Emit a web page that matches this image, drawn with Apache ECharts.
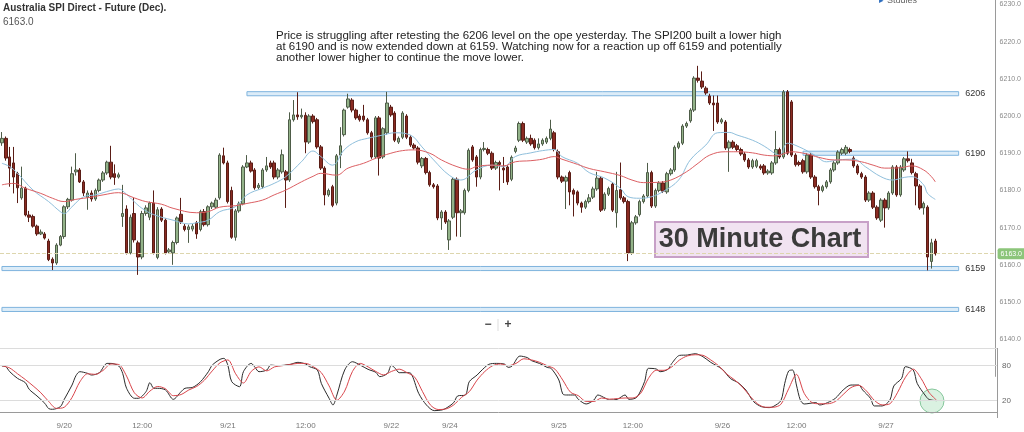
<!DOCTYPE html>
<html>
<head>
<meta charset="utf-8">
<title>SPI 30 minute</title>
<script src="https://cdn.jsdelivr.net/npm/echarts@6/dist/echarts.min.js"></script>
<style>
  html, body { margin: 0; padding: 0; background: #fff; }
  #spiChart { width: 1024px; height: 432px; }
</style>
</head>
<body>
<div id="spiChart"></div>
<script>
// 30 minute bars [open, close, low, high], split by trading day
var bars0920 = [
  [6192.8,6194,6192,6195.7],[6194,6188.7,6188,6194.5],[6189,6186,6181,6191.7],[6187.4,6183.6,6179.2,6191.7],
  [6184.5,6180.7,6176.6,6185],[6178,6180.6,6177.5,6186.4],[6180.6,6173.4,6173,6181],[6173.4,6172.8,6171.5,6174.5],
  [6173,6170.4,6170,6173.5],[6170.4,6168.3,6167.8,6170.8],[6168.3,6168.8,6168,6169.5],[6168.3,6167.2,6166.8,6168.8],
  [6166.4,6161.4,6161,6167],[6161.5,6160.5,6158.6,6162],[6160.5,6165.3,6160,6165.8],[6165.3,6167.6,6165,6168],
  [6167.6,6175.6,6167,6176],[6175.6,6177.6,6175,6178],[6177.4,6184.5,6177,6186.4],[6185,6185.5,6184,6190],
  [6185.5,6182.3,6182,6186],[6182.3,6179.3,6178.5,6182.8],[6178.2,6179.3,6174.8,6180],[6179.3,6177.7,6177,6180],
  [6177.7,6180,6177.2,6180.5],[6180,6182.8,6179.5,6183.2],[6182.8,6184.7,6182.3,6185.2],[6184.7,6187.6,6184.2,6188],
  [6187.6,6183.6,6183,6192],[6184.5,6183.5,6181.5,6187],[6183.6,6184.2,6183.2,6184.8],[6173,6173.8,6170.2,6181.5],
  [6175,6163.2,6162.8,6176],[6163.2,6172.8,6162.8,6173.5],[6173.8,6166.7,6166,6178],[6165.9,6162.1,6157.3,6166.5],
  [6162.1,6173.8,6161.5,6174.5],[6173.8,6175.3,6173.2,6176],[6172.8,6176.6,6172,6177],[6176.6,6163.2,6162.8,6180],
  [6162,6174.8,6161.5,6175.5],[6175,6172,6171.5,6175.5],[6172,6163.2,6162.8,6172.5],[6163.5,6164,6163,6164.5],
  [6163.2,6166,6160,6166.5],[6166,6172.6,6165.5,6173],[6173.6,6171.6,6171,6178],[6170.4,6169.5,6169,6171],
  [6169.5,6170.2,6165.9,6170.8],[6169.6,6170.4,6169,6171],[6171.3,6168.3,6167,6171.8],[6169.5,6174.3,6169,6174.8],
  [6174.3,6170.8,6170.3,6175],[6170.8,6175.6,6170.3,6176],[6175.6,6176.6,6175,6177],[6175.5,6177.4,6175,6178],
  [6178,6189.5,6177.5,6190],[6189.3,6187.4,6187,6191.5]
];
var bars0921 = [
  [6187.4,6177,6176.5,6188],[6180,6167.4,6167,6181],[6167.4,6174.5,6166.5,6175],[6174.5,6176.4,6174,6177],
  [6176.4,6186.3,6176,6186.8],[6186.3,6187.4,6186,6189.5],[6187.4,6185.2,6184.8,6188],[6185.5,6180.7,6180.2,6186],
  [6180.8,6181.4,6180.3,6182],[6181,6185.5,6180.5,6186],[6185.5,6186.6,6185,6189],[6187.4,6186.3,6185.8,6188],
  [6187.4,6183.6,6183,6188],[6183.6,6185.5,6183,6186],[6185,6189.6,6184.5,6191],[6185,6182.8,6175.3,6185.5],
  [6182.8,6199,6182.3,6201],[6199,6200.3,6198.5,6204.3],[6200.3,6199.8,6199,6206.4],[6199.8,6200.2,6199.3,6202],
  [6200.2,6193,6190,6201],[6193,6200,6192.5,6200.5],[6200,6198.5,6198,6200.5],[6199,6191.7,6191.2,6199.5],
  [6191.7,6186,6185.5,6192.2],[6186,6178.8,6176,6186.5],[6178.8,6180,6178.3,6180.5],[6181,6176,6175.5,6181.5],
  [6176.6,6189.3,6176,6189.8],[6189.5,6192,6186,6197],[6195,6201.6,6194.5,6202],[6202.4,6204.6,6202,6206],
  [6204.3,6201.6,6201,6204.8],[6201.6,6199.5,6199,6202],[6200,6199,6198.5,6200.5],[6200,6199,6198.5,6203],
  [6199,6195.5,6195,6199.5],[6195.5,6189,6188.5,6196],[6189,6199.5,6188.5,6200],[6199.5,6188.7,6184,6200],
  [6189,6196.6,6188.5,6197],[6195.5,6203.5,6195,6206.5]
];
var bars0922 = [
  [6202.4,6200.3,6199.8,6203],[6200.8,6193.5,6193,6201.3],[6193,6194,6192.5,6194.5],[6194.3,6200.8,6193.8,6201.3],
  [6200,6194.3,6193.8,6200.5],[6194.3,6192.2,6191.7,6194.8],[6192.2,6191.4,6191,6192.7],[6191.4,6187.6,6187,6191.9],
  [6186.6,6188.6,6186,6189],[6188.6,6184.8,6184.3,6189],[6184.8,6181.5,6181,6185.3],[6181.5,6181,6180.5,6182],
  [6181.2,6172.6,6172,6181.7],[6172.6,6174.2,6169.4,6174.7],[6174.2,6171.5,6171,6174.7],[6166.7,6171.8,6164,6172.3],
  [6172.8,6183,6172.3,6183.5],[6183,6174,6167.6,6183.5],[6174,6174.5,6167.5,6175],[6174,6180,6173.5,6180.5],
  [6180,6190.8,6179.5,6191.3],[6191.7,6188.2,6187.7,6192.2],[6189,6183.6,6181,6189.5],[6183.6,6191,6183,6191.5],
  [6191,6191.3,6190.5,6193],[6191,6190,6189.5,6191.5],[6190,6186,6185.5,6190.5],[6186,6187.5,6185.5,6188],
  [6187.5,6187,6180,6188],[6186,6185.5,6182,6189],[6186.3,6182.3,6181.5,6186.8],[6183,6188.9,6182.5,6189.4],
  [6190.5,6191.4,6190,6192],[6193.5,6198,6193,6198.5],[6198,6193.5,6193,6198.5],[6193,6194,6192.5,6194.5],
  [6194,6192.5,6192,6195],[6193.5,6191.5,6191,6194],[6191.5,6192.5,6191,6194],[6192.5,6193.5,6192,6194],
  [6193,6194,6192.5,6194.5],[6194,6196.5,6193.5,6199],[6195.5,6191,6190.5,6196]
];
var bars0925 = [
  [6190.4,6183.6,6183,6191],[6183.6,6182.5,6182,6184],[6182.5,6183.5,6175,6184],[6184.8,6179.6,6176,6185.3],
  [6180,6179,6173,6180.5],[6179.6,6176.6,6176,6180],[6176.6,6175.5,6174,6177],[6175.5,6177,6175,6177.5],
  [6177,6178,6176.5,6179],[6178.2,6180.4,6177.7,6181],[6180.4,6183.3,6179.9,6185],[6183.3,6174.7,6174.2,6183.8],
  [6175,6179,6174.5,6179.5],[6179,6180.5,6178.5,6181],[6181.7,6174.7,6174.2,6182.2],[6174,6180,6170,6185],
  [6180.2,6178,6177.5,6187.5],[6178,6177,6176.5,6178.5],[6177,6163.2,6161,6177.5],[6163.2,6171.3,6162.7,6171.8],
  [6171.3,6172.9,6170.8,6173.4],[6173.5,6177,6173,6177.5],[6177,6178.5,6176.5,6179],[6178.5,6184.8,6178,6187.4],
  [6184.8,6175.8,6175.3,6185.3],[6175.8,6180,6175.3,6180.5],[6180,6182,6179.5,6182.5],[6182,6179.8,6179.3,6182.5],
  [6179.6,6184.5,6179.1,6185],[6184.5,6185.5,6184,6186],[6185.5,6191.6,6185,6192.1],[6191.6,6192.7,6191.1,6193.2],
  [6192.7,6197.3,6192.2,6197.8],[6197.3,6198,6196.8,6198.5],[6198.7,6201.6,6198.2,6202.1],[6201.6,6210.2,6201.1,6210.7],
  [6210.2,6209.6,6209,6213.5],[6209.4,6207.8,6207.3,6212],[6207.5,6206.2,6205.7,6208],[6205.4,6203.5,6203,6206],
  [6203.5,6203,6196,6205.5],[6203.5,6198.4,6197.9,6205.5]
];
var bars0926 = [
  [6198.4,6199,6197.9,6199.5],[6198.4,6191.4,6190.9,6198.9],[6191.4,6193,6185,6193.5],[6193,6191.6,6191.1,6193.5],
  [6192,6191,6190.5,6192.5],[6191,6189.8,6189.3,6191.5],[6189.8,6188.2,6187.7,6190.3],[6188.2,6186.3,6185.8,6188.7],
  [6186.3,6188,6185.8,6188.5],[6186.5,6188,6186,6188.5],[6186.5,6186,6185.5,6187],[6186.6,6184.7,6184.2,6187.1],
  [6184.7,6185.2,6184.2,6185.7],[6184.7,6187.4,6184.2,6187.9],[6187.4,6191,6186.9,6196],[6191,6189,6188.5,6191.5],
  [6189,6206.5,6188.5,6207],[6206.5,6190,6189.5,6207],[6203.8,6189.5,6189,6204.3],[6189.5,6186.9,6186.4,6190],
  [6187.5,6187,6186.5,6188],[6188,6185,6184.5,6188.5],[6185,6189.5,6184.5,6190],[6189.5,6183.6,6183.1,6190],
  [6183.6,6181,6180.5,6184.1],[6181,6180,6176,6181.5],[6180,6181,6179.5,6181.5],[6181,6182.3,6180.5,6182.8],
  [6182.3,6185.5,6181.8,6186],[6185.5,6187.4,6185,6187.9],[6187.4,6190.3,6186.9,6190.8],[6190,6191,6189.5,6191.5],
  [6190,6191.6,6189.5,6192.2],[6191,6190.5,6190,6191.5],[6188.7,6186.6,6186.1,6189.2],[6186.6,6184.7,6184.2,6187.1],
  [6184.5,6183.6,6183.1,6185],[6183.6,6177.4,6176.9,6184.1],[6177.4,6179.3,6176.9,6179.8],[6179.3,6175.5,6175,6179.8],
  [6175.5,6172.6,6172.1,6176],[6172,6177.4,6171.5,6177.9],[6177.4,6175.3,6170,6177.9],[6175.3,6179.3,6174.8,6179.8],
  [6179.3,6186.3,6178.8,6186.8],[6186.3,6178.8,6178.3,6186.8],[6178.8,6186.3,6178.3,6186.8],[6185.5,6188.5,6185,6189],
  [6188.5,6188,6187.5,6190.5],[6187.4,6184.8,6184.3,6188.5],[6184.5,6181.2,6176,6185],[6181.2,6175.3,6174.8,6181.7],
  [6175.3,6176.5,6173.5,6177],[6175.5,6162.1,6158.5,6176],[6160.9,6165.9,6159,6167],[6166.4,6163,6162.5,6167]
];

// moving averages, [bar index, price]
var maFast = [[0,6187.3],[2,6186.4],[4,6184.6],[8,6180.1],[12,6177],[15,6174.3],[16,6173.8],[18,6175.6],[21,6178.3],[24,6178.8],
  [28,6180],[30,6180.4],[32,6179],[34,6177],[36,6175.2],[39,6173.5],[44,6172],[48,6171],[50,6171.3],[53,6172],[56,6174.3],
  [60,6175.6],[63,6178.8],[67,6180.6],[70,6181.9],[73,6183.7],[77,6187.7],[80,6190.6],[82,6189.1],[85,6186.8],[88,6190.9],
  [91,6193.1],[94,6194],[98,6194.9],[101,6195.5],[105,6194.9],[108,6191.7],[111,6188.2],[115,6184.1],[118,6182.8],[122,6185.5],
  [126,6186.8],[129,6186.4],[132,6189.1],[136,6190.1],[139,6190.7],[142,6191],[144,6189.1],[148,6187.3],[151,6184.8],[155,6183.3],
  [159,6180.6],[161,6178.3],[164,6177.9],[167,6178.3],[170,6179.7],[174,6182.8],[177,6188.2],[181,6192.2],[184,6195.5],[187,6195.6],
  [189,6194.9],[193,6193.5],[196,6191.9],[199,6189.8],[200,6189.5],[202,6192.7],[205,6191.7],[209,6189.5],[212,6187.7],[215,6188.2],
  [219,6188.4],[222,6186.4],[226,6183.7],[229,6182.8],[232,6183.5],[234,6183.7],[237,6181.5],[238,6179.2],[240,6177.6]];
var maSlow = [[0,6181.5],[3,6181.9],[6,6180.6],[10,6179.2],[13,6177.9],[16,6177],[19,6177.6],[23,6178.2],[26,6178.8],[30,6179.4],
  [34,6178],[37,6177],[41,6176.3],[44,6175.2],[50,6174],[53,6174.3],[56,6175.5],[60,6175.9],[63,6176.5],[67,6177.4],[70,6178.8],
  [73,6180.1],[77,6182.3],[80,6183.8],[82,6184.6],[86,6184.1],[89,6186],[93,6187.3],[96,6188.6],[100,6190],[103,6190.7],
  [106,6190.9],[110,6190],[113,6188.2],[117,6186.4],[120,6185.7],[122,6186.4],[126,6186.8],[129,6186.6],[132,6187.7],[136,6188],
  [139,6188.4],[142,6189.1],[144,6188.4],[148,6187],[151,6185.9],[155,6185],[159,6184],[162,6182.8],[165,6182.1],[169,6182.2],
  [172,6182.8],[176,6185],[179,6187.3],[182,6189.5],[186,6190.4],[189,6190.4],[193,6190.1],[196,6189.5],[199,6189.3],[203,6190.4],
  [207,6189.8],[210,6188.9],[214,6188.2],[217,6188.2],[221,6187.7],[224,6186.8],[227,6186],[231,6186.1],[234,6186.6],[237,6185.5],
  [239,6183.7],[240,6182.3]];

// stochastic %K (black) and %D (red), [bar index, value]
var stochK = [[0,79.4],[1,78.3],[2,69.6],[4,58],[6,50.6],[7,39],[9,27.5],[11,14.8],[12,5.6],[13,4.4],[15,9],[16,21.7],[18,46.5],
  [19,62.7],[20,69.6],[22,66.7],[23,63.8],[25,67.9],[27,84],[28,84],[30,79.4],[31,66.7],[32,40.8],[34,23.5],[35,23.5],[37,35],
  [38,50.6],[39,40.8],[40,40.8],[42,37.9],[44,21.7],[46,35],[47,40.8],[49,42.5],[51,52.3],[53,69.6],[54,81],[56,91],[57,92.7],
  [58,81],[59,52.3],[61,43.6],[62,69.6],[64,84],[65,77],[66,69.6],[68,72.5],[69,81],[71,80],[74,82.3],[76,85.8],[78,82.9],
  [79,78.3],[81,72.5],[82,49.4],[84,23.5],[85,11.9],[86,29.2],[88,72.5],[90,86.9],[92,81],[94,73.7],[96,68.5],[97,61],[99,66.7],
  [100,80.6],[101,75.4],[102,67.9],[104,67.9],[105,66.7],[107,32.1],[109,11.9],[111,2.1],[113,3.3],[114,6.1],[116,16],[117,27.5],
  [119,29.2],[120,52.3],[122,63.8],[123,70.8],[125,82.3],[127,84],[129,82.9],[130,77],[131,79.4],[133,96.7],[135,93.8],[136,88.7],
  [138,84],[140,77],[141,75.4],[143,55.2],[144,31],[145,29.2],[147,29.2],[148,21.7],[150,13.6],[152,20.5],[153,29.2],[155,23.5],
  [156,20.5],[158,21.7],[160,29.2],[161,21.7],[163,25.2],[165,52.3],[166,75.4],[168,74.3],[169,69.6],[171,73.7],[172,84],[174,97.9],
  [176,98.5],[178,100.8],[180,95.6],[182,85.8],[185,73.7],[187,58],[189,50.6],[191,37.9],[193,17.7],[195,9],[197,7.3],[198,9],
  [200,19.4],[201,49.4],[202,70.8],[203,72.5],[204,46.5],[205,20.5],[206,13.6],[209,16],[210,11.9],[212,16],[214,23.5],[216,37.9],
  [218,46.5],[220,46.5],[221,37.9],[223,23.5],[224,10.2],[226,10.2],[228,20.5],[229,44.8],[231,58],[232,78.3],[234,72.5],[235,49.4],
  [237,29.2],[238,21.7],[240,19.4]];
var stochD = [[0,80],[2,76],[4,66],[6,56],[8,45],[10,33],[12,18],[14,6],[16,8],[18,25],[20,52],[22,66],[24,65],[26,72],[28,83],
  [30,82],[32,62],[34,33],[36,24],[38,36],[40,44],[42,40],[44,28],[46,30],[48,38],[50,44],[52,55],[54,71],[56,85],[58,90],[60,66],
  [62,50],[64,70],[66,78],[68,71],[70,78],[72,80],[74,82],[76,84],[78,84],[80,78],[82,68],[84,45],[86,20],[88,36],[90,70],[92,84],
  [94,78],[96,70],[98,64],[100,70],[102,74],[104,68],[106,60],[108,35],[110,12],[112,4],[114,5],[116,12],[118,25],[120,35],[122,55],
  [124,70],[126,80],[128,83],[130,80],[132,84],[134,92],[136,90],[138,86],[140,80],[142,74],[144,55],[146,34],[148,28],[150,18],
  [152,18],[154,24],[156,22],[158,23],[160,24],[162,24],[164,32],[166,58],[168,72],[170,72],[172,78],[174,90],[176,97],[178,99],
  [180,98],[182,90],[184,80],[186,66],[188,56],[190,44],[192,28],[194,14],[196,8],[198,8],[200,13],[202,40],[204,65],[206,32],
  [208,16],[210,14],[212,14],[214,18],[216,30],[218,42],[220,46],[222,36],[224,20],[226,12],[228,14],[230,34],[232,60],[234,74],
  [236,58],[238,34],[240,20]];

// support / resistance levels
var levelVals = [6206, 6190, 6159, 6148];
var levelFrom = [63, 206, 0, 0];
var levelTo = 246;
var lastPrice = 6163.0;

// time axis ticks (bar index -> label)
var tickIdx = [16, 36, 58, 78, 100, 115, 143, 162, 185, 204, 227];
var tickText = ['9/20', '12:00', '9/21', '12:00', '9/22', '9/24', '9/25', '12:00', '9/26', '12:00', '9/27'];

var slotCount = 256;
var noteText = 'Price is struggling after retesting the 6206 level on the ope yesterday. The SPI200 built a lower high\n' +
  'at 6190 and is now extended down at 6159. Watching now for a reaction up off 6159 and potentially\n' +
  'another lower higher to continue the move lower.';

var bars = bars0920.concat(bars0921, bars0922, bars0925, bars0926);
var cats = [];
for (var i = 0; i < slotCount; i++) {
  cats.push(String(i));
}

var levelAreas = [];
for (var j = 0; j < levelVals.length; j++) {
  levelAreas.push([
    { xAxis: levelFrom[j], yAxis: levelVals[j] - 0.55, label: { formatter: String(levelVals[j]) } },
    { xAxis: levelTo, yAxis: levelVals[j] + 0.55 }
  ]);
}

var baseFont = "'Liberation Sans', Arial, sans-serif";
var myChart = echarts.init(document.getElementById('spiChart'), null, { renderer: 'canvas' });

var option = {
  backgroundColor: '#ffffff',
  animation: false,
  textStyle: { fontFamily: baseFont },
  grid: [
    // price pane: top edge is 6231.2, bottom edge 6130 (hidden under the stochastic pane)
    { left: 0, width: 997, top: 0, height: 376.4 },
    { left: 0, width: 997, top: 348.4, height: 69.2 }
  ],
  xAxis: [
    { type: 'category', gridIndex: 0, data: cats, show: false, boundaryGap: true },
    {
      type: 'category', gridIndex: 1, data: cats, boundaryGap: true,
      axisLine: { lineStyle: { color: '#9a9a9a' } },
      axisTick: { show: false },
      axisLabel: {
        color: '#777', fontSize: 8, margin: 4,
        interval: function (index) { return tickIdx.indexOf(index) >= 0; },
        formatter: function (value, index) {
          var k = tickIdx.indexOf(index);
          return k >= 0 ? tickText[k] : '';
        }
      }
    }
  ],
  yAxis: [
    {
      type: 'value', gridIndex: 0, position: 'right', min: 6130, max: 6231.2, interval: 10,
      axisLine: { show: true, lineStyle: { color: '#9a9a9a' } },
      axisTick: { show: false },
      splitLine: { show: false },
      axisLabel: {
        color: '#8a8a8a', fontSize: 7, margin: 4, showMaxLabel: false,
        formatter: function (v) { return (v < 6140 || v > 6230) ? '' : v.toFixed(1); }
      }
    },
    {
      type: 'value', gridIndex: 1, position: 'right', min: -10, max: 110, interval: 30,
      axisLine: { show: true, lineStyle: { color: '#9a9a9a' } },
      axisTick: { show: false },
      splitLine: { show: false },
      axisLabel: {
        color: '#666', fontSize: 8, margin: 5,
        formatter: function (v) { return (v === 20 || v === 80) ? String(v) : ''; }
      }
    }
  ],
  series: [
    {
      name: 'SPI', type: 'candlestick', xAxisIndex: 0, yAxisIndex: 0,
      data: bars, barWidth: 3,
      itemStyle: {
        color: '#93b389', color0: '#8a2b22',
        borderColor: '#4e5c48', borderColor0: '#5a1d16', borderWidth: 1
      },
      markArea: {
        silent: true,
        itemStyle: { color: '#dcecf8', borderColor: '#7fb4de', borderWidth: 1 },
        label: { show: true, position: 'right', distance: 6, color: '#333', fontSize: 9 },
        data: levelAreas
      },
      markLine: {
        silent: true, symbol: 'none',
        lineStyle: { type: 'dashed', color: '#ddd6ad', width: 1 },
        label: {
          position: 'end', formatter: lastPrice.toFixed(1), color: '#fff', fontSize: 7,
          backgroundColor: '#8cc57a', padding: [2, 3], borderRadius: 2, distance: 2
        },
        data: [{ yAxis: lastPrice }]
      }
    },
    {
      name: 'fast', type: 'line', xAxisIndex: 0, yAxisIndex: 0, data: maFast,
      symbol: 'none', smooth: 0.4, lineStyle: { color: '#8fbfdc', width: 1 }
    },
    {
      name: 'slow', type: 'line', xAxisIndex: 0, yAxisIndex: 0, data: maSlow,
      symbol: 'none', smooth: 0.4, lineStyle: { color: '#dc5f63', width: 1 }
    },
    {
      name: 'K', type: 'line', xAxisIndex: 1, yAxisIndex: 1, data: stochK,
      symbol: 'none', smooth: 0.3, lineStyle: { color: '#2b2b2b', width: 1 },
      markLine: {
        silent: true, symbol: 'none', label: { show: false },
        lineStyle: { type: 'solid', color: '#dcdcdc', width: 1 },
        data: [{ yAxis: 20 }, { yAxis: 80 }, { yAxis: 110 }]
      }
    },
    {
      name: 'D', type: 'line', xAxisIndex: 1, yAxisIndex: 1, data: stochD,
      symbol: 'none', smooth: 0.3, lineStyle: { color: '#d9464c', width: 1 }
    }
  ],
  graphic: [
    { type: 'text', left: 3, top: 3, style: { text: 'Australia SPI Direct - Future (Dec).', fill: '#333',
      font: "bold 10px 'Liberation Sans Narrow', 'Liberation Sans', sans-serif" } },
    { type: 'text', left: 3, top: 17, style: { text: '6163.0', fill: '#555', font: '10px ' + baseFont } },
    { type: 'text', left: 276, top: 30, style: { text: noteText, fill: '#222', font: '11.5px ' + baseFont, lineHeight: 10.7 } },
    { type: 'rect', shape: { x: 655, y: 222, width: 213, height: 35 },
      style: { fill: '#f1e3f1', stroke: '#c7a0c7', lineWidth: 2 } },
    { type: 'text', x: 760, y: 240, style: { text: '30 Minute Chart', fill: '#3b3b3b',
      font: 'bold 27px ' + baseFont, textAlign: 'center', textVerticalAlign: 'middle' } },
    { type: 'text', left: 879, top: -4, style: { text: '\u25B8', fill: '#2f6fbf', font: '9px ' + baseFont } },
    { type: 'text', left: 887, top: -4, style: { text: 'Studies', fill: '#666', font: '9px ' + baseFont } },
    { type: 'text', x: 488, y: 325, style: { text: '\u2212', fill: '#444', font: 'bold 12px ' + baseFont,
      textAlign: 'center', textVerticalAlign: 'middle' } },
    { type: 'line', shape: { x1: 498, y1: 319, x2: 498, y2: 331 }, style: { stroke: '#ddd', lineWidth: 1 } },
    { type: 'text', x: 508, y: 325, style: { text: '+', fill: '#444', font: 'bold 12px ' + baseFont,
      textAlign: 'center', textVerticalAlign: 'middle' } },
    { type: 'circle', shape: { cx: 932, cy: 401, r: 12 },
      style: { fill: 'rgba(150, 215, 170, 0.35)', stroke: '#86c79c', lineWidth: 1 } }
  ]
};

myChart.setOption(option);
</script>
</body>
</html>
